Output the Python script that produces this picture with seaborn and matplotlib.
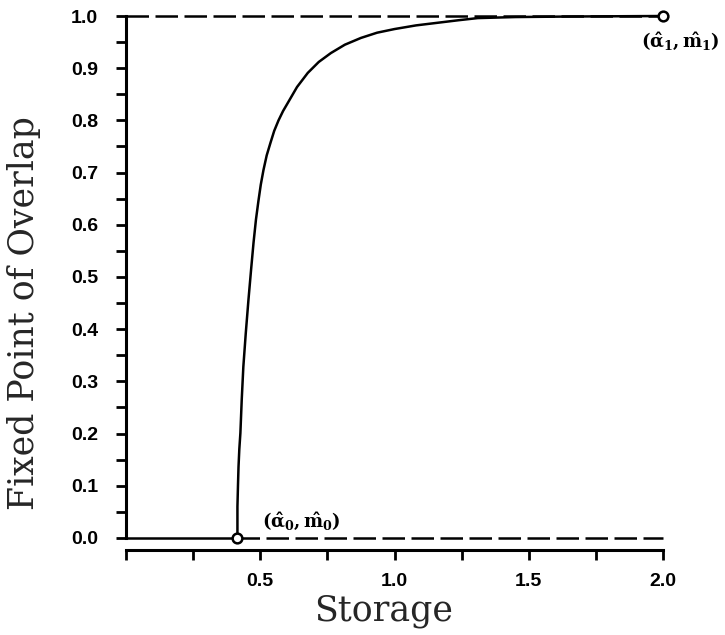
import matplotlib as mpl
mpl.use('Agg')
import matplotlib.pyplot as plt
import numpy as np
import pandas as pd
import seaborn as sns

# values
storage = [0.415, 0.415, 0.417, 0.419, 0.422, 0.426, 0.431, 0.437, 0.446, 0.456,
           0.466, 0.475, 0.484, 0.493, 0.502, 0.512, 0.524, 0.538, 0.552, 0.568,
           0.585, 0.602, 0.637, 0.677, 0.718, 0.763, 0.815, 0.875, 0.935, 1.0,
           1.08, 1.16, 1.24, 1.31, 1.45, 1.65, 2.0]
overlap = [0.0, 0.06, 0.10, 0.136, 0.170, 0.201, 0.265, 0.328, 0.392, 0.456,
           0.515, 0.566, 0.610, 0.645, 0.677, 0.705, 0.733, 0.757, 0.780, 0.800,
           0.818, 0.833, 0.864, 0.891, 0.912, 0.929, 0.945, 0.958, 0.968, 0.975,
           0.982, 0.987, 0.992, 0.996, 0.998, 0.999, 1.0]
alpha0, m0 = 0.415, 0.0
alpha1, m1 = 2.0, 1.0
x_ticks = [0, 0.25, 0.5, 0.75, 1.0, 1.25, 1.5, 1.75, 2.0]
x_labels = ['', '', '0.5', '', '1.0', '', '1.5', '', '2.0']
y_ticks = [round(0.05 * i, 2) for i in range(21)]
y_labels = ['%.1f' % v if i % 2 == 0 else '' for i, v in enumerate(y_ticks)]

curve = pd.DataFrame({'storage': storage, 'overlap': overlap})

sns.set_theme(style='ticks')
plt.rcParams['mathtext.fontset'] = 'dejavuserif'
plt.rcParams['text.color'] = 'black'
plt.rcParams['xtick.color'] = 'black'
plt.rcParams['ytick.color'] = 'black'

fig = plt.figure(figsize=(7.25, 6.35), dpi=100)
ax = fig.add_axes([0.1738, 0.1528, 0.7407, 0.822])

# spine placement first: set_position resets the tick objects
ax.spines['top'].set_visible(False)
ax.spines['right'].set_visible(False)
ax.spines['left'].set_linewidth(2.2)
ax.spines['bottom'].set_linewidth(2.2)
ax.spines['left'].set_color('black')
ax.spines['bottom'].set_color('black')
ax.spines['bottom'].set_position(('outward', 9))

lw = 1.8
dash = (9, 2.6)
# trivial branch m = 0 (solid up to alpha0, dashed beyond)
sns.lineplot(x=[0, alpha0], y=[0, 0], ax=ax, color='black', lw=lw, clip_on=False)
sns.lineplot(x=[alpha0, 2.0], y=[0, 0], ax=ax, color='black', lw=lw,
             clip_on=False).lines[-1].set_dashes(dash)
sns.lineplot(x=[0, 2.0], y=[1, 1], ax=ax, color='black', lw=lw,
             clip_on=False).lines[-1].set_dashes(dash)
# fixed point curve
sns.lineplot(data=curve, x='storage', y='overlap', ax=ax, color='black', lw=lw,
             sort=False, estimator=None, clip_on=False)
ax.plot([alpha0, alpha1], [m0, m1], ls='none', marker='o', ms=7, mfc='white',
        mec='black', mew=1.8, clip_on=False, zorder=5)

ax.set_xlim(0, 2.0)
ax.set_ylim(0, 1.0)
ax.set_xticks(x_ticks)
ax.set_xticklabels(x_labels)
ax.set_yticks(y_ticks)
ax.set_yticklabels(y_labels)

ax.tick_params(axis='both', direction='out', length=7, width=2, color='black',
               labelcolor='black', labelsize=14)
ax.tick_params(axis='x', pad=9)
ax.tick_params(axis='y', pad=13)
for lab in ax.get_xticklabels() + ax.get_yticklabels():
    lab.set_fontfamily('Liberation Sans')
    lab.set_fontweight('bold')

ax.set_xlabel('Storage', fontfamily='DejaVu Serif', fontsize=25, va='top')
ax.xaxis.set_label_coords(0.48, -0.108)
ax.set_ylabel('Fixed Point of Overlap', fontfamily='DejaVu Serif', fontsize=25)
ax.yaxis.set_label_coords(-0.158, 0.43)

ax.text(alpha0 + 0.09, 0.012, r'$\mathbf{(\hat{\alpha}_0,\hat{m}_0)}$', fontsize=13,
        ha='left', va='bottom')
ax.text(alpha1 + 0.065, 0.972, r'$\mathbf{(\hat{\alpha}_1,\hat{m}_1)}$', fontsize=13,
        ha='center', va='top')

plt.savefig('out.png', dpi=100)
